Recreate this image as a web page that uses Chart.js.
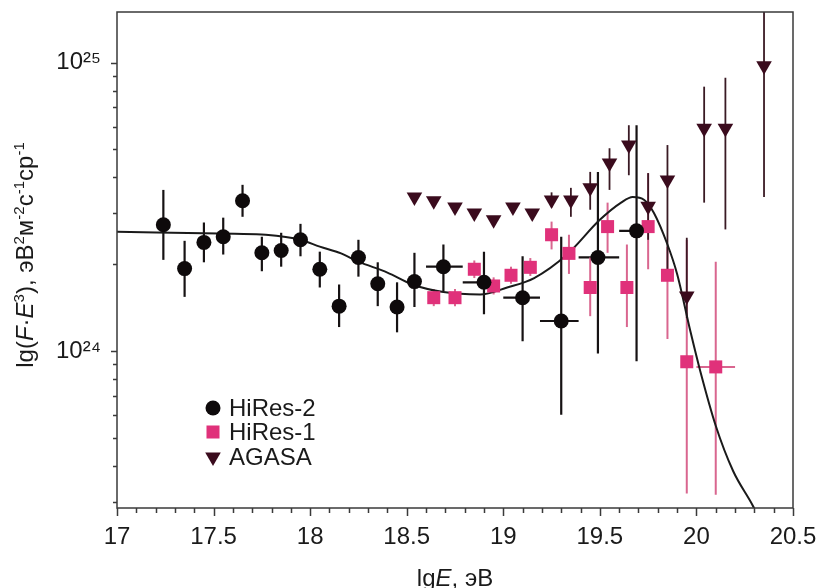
<!DOCTYPE html>
<html><head><meta charset="utf-8">
<script src="https://cdn.jsdelivr.net/npm/chart.js@4"></script>
<style>html,body{margin:0;padding:0;background:#fff;}canvas{display:block;}</style>
</head><body>
<canvas id="c" width="819" height="588"></canvas>
<script>
const FONT = '"Liberation Sans", "DejaVu Sans", sans-serif';

// ---- HiRes-2 (flux in units of 1e24 eV^2 m^-2 s^-1 sr^-1) ----
const hires2E    = [17.24,17.35,17.45,17.55,17.65,17.75,17.85,17.95,18.05,18.15,18.25,18.35,18.45,18.54,18.69,18.90,19.10,19.30,19.49,19.69];
const hires2Flux = [2.74,1.93,2.38,2.49,3.32,2.19,2.23,2.43,1.92,1.43,2.11,1.71,1.42,1.74,1.96,1.73,1.53,1.27,2.11,2.61];
const hires2Low  = [2.07,1.54,2.03,2.16,2.92,1.89,1.96,2.13,1.66,1.21,1.81,1.43,1.16,1.42,1.61,1.34,1.08,0.60,0.98,0.92];
const hires2High = [3.62,2.41,2.79,2.90,3.77,2.49,2.57,2.76,2.21,1.70,2.43,2.03,1.73,2.19,2.34,2.21,2.13,2.49,4.18,6.07];
const hires2ELow = [null,null,null,null,null,null,null,null,null,null,null,null,null,null,18.60,18.79,19.00,19.19,19.39,19.60];
const hires2EHigh= [null,null,null,null,null,null,null,null,null,null,null,null,null,null,18.79,18.98,19.19,19.39,19.60,19.78];

// ---- HiRes-1 ----
const hires1E    = [18.64,18.75,18.85,18.95,19.04,19.14,19.25,19.34,19.45,19.54,19.64,19.75,19.85,19.95,20.10];
const hires1Flux = [1.53,1.53,1.92,1.68,1.83,1.95,2.53,2.18,1.66,2.70,1.66,2.70,1.83,0.917,0.88];
const hires1Low  = [1.43,1.43,1.79,1.57,1.71,1.82,2.25,1.85,1.32,2.19,1.21,1.92,1.10,0.32,0.317];
const hires1High = [1.64,1.64,2.06,1.80,1.96,2.10,2.81,2.53,2.11,3.27,2.34,4.14,2.30,2.43,2.04];
const hires1ELow = [null,null,null,null,null,null,null,null,null,null,null,null,null,null,20.00];
const hires1EHigh= [null,null,null,null,null,null,null,null,null,null,null,null,null,null,20.20];

// ---- AGASA ----
const agasaE    = [18.54,18.64,18.75,18.85,18.95,19.05,19.15,19.25,19.35,19.45,19.55,19.65,19.75,19.85,19.95,20.04,20.15,20.35];
const agasaFlux = [3.42,3.32,3.16,3.01,2.85,3.16,3.01,3.34,3.34,3.68,4.49,5.18,3.18,3.92,1.55,5.92,5.92,9.77];
const agasaLow  = [null,null,null,null,null,null,null,3.15,2.92,3.09,3.62,4.07,2.43,1.90,1.30,3.27,2.64,3.42];
const agasaHigh = [null,null,null,null,null,null,null,3.55,3.68,4.18,5.05,6.07,4.14,5.18,2.47,8.26,8.87,16.0];

// ---- fit curve ----
const curveE    = [17.00,17.61,17.77,17.95,18.05,18.16,18.25,18.40,18.53,18.69,18.88,19.02,19.16,19.33,19.50,19.61,19.67,19.73,19.78,19.85,19.90,19.97,20.02,20.10,20.19,20.29,20.34];
const curveFlux = [2.59,2.55,2.53,2.43,2.30,2.18,2.04,1.87,1.70,1.60,1.57,1.66,1.79,2.16,2.85,3.27,3.42,3.34,3.01,2.34,1.85,1.16,0.85,0.55,0.383,0.292,0.25];

// ---- axes ----
const xMajorTicks = [17,17.5,18,18.5,19,19.5,20,20.5];
const xTickLabels = ['17','17.5','18','18.5','19','19.5','20','20.5'];
const yMajorTicks = [1e24,1e25];
const yTickLabels = ['10²⁴','10²⁵'];
const yMinorTicks = [3e23,4e23,5e23,6e23,7e23,8e23,9e23,2e24,3e24,4e24,5e24,6e24,7e24,8e24,9e24];
const xMinorStep = 0.1;
const seriesNames = ['HiRes-2','HiRes-1','AGASA'];

const U = 1e24;
function pts(xs, ys, lo, hi, xlo, xhi) {
  return xs.map((x, i) => ({
    x: x, y: ys[i] * U,
    lo: lo && lo[i] != null ? lo[i] * U : null,
    hi: hi && hi[i] != null ? hi[i] * U : null,
    xlo: xlo ? xlo[i] : null, xhi: xhi ? xhi[i] : null
  }));
}

const errorBars = {
  id: 'errorBars',
  beforeDatasetsDraw(chart) {
    const { ctx, chartArea: a, scales: { x, y } } = chart;
    ctx.save();
    ctx.beginPath(); ctx.rect(a.left, a.top, a.right - a.left, a.bottom - a.top); ctx.clip();
    chart.data.datasets.forEach(ds => {
      if (!ds.errColor) return;
      ctx.strokeStyle = ds.errColor; ctx.lineWidth = ds.errWidth || 2;
      ds.data.forEach(p => {
        const px = x.getPixelForValue(p.x), py = y.getPixelForValue(p.y);
        ctx.beginPath();
        if (p.lo != null && p.hi != null) {
          ctx.moveTo(px, y.getPixelForValue(p.lo)); ctx.lineTo(px, y.getPixelForValue(p.hi));
        }
        if (p.xlo != null && p.xhi != null) {
          ctx.moveTo(x.getPixelForValue(p.xlo), py); ctx.lineTo(x.getPixelForValue(p.xhi), py);
        }
        ctx.stroke();
      });
    });
    ctx.restore();
  }
};

const NORM = 24, SUP = 15;
function setRunFont(ctx, s) {
  if (s === 'i') ctx.font = 'italic ' + NORM + 'px ' + FONT;
  else if (s === 's') ctx.font = SUP + 'px ' + FONT;
  else ctx.font = NORM + 'px ' + FONT;
}
function drawRuns(ctx, runs, x, y) {
  let cx = x;
  runs.forEach(([t, s]) => {
    setRunFont(ctx, s);
    ctx.fillText(t, cx, s === 's' ? y - 9 : y);
    cx += ctx.measureText(t).width;
  });
  return cx - x;
}
function runsWidth(ctx, runs) {
  let w = 0;
  runs.forEach(([t, s]) => { setRunFont(ctx, s); w += ctx.measureText(t).width; });
  return w;
}

const decor = {
  id: 'decor',
  afterDraw(chart) {
    const { ctx, chartArea: a, scales: { x, y } } = chart;
    ctx.save();
    // frame
    ctx.strokeStyle = '#3a3a3a'; ctx.lineWidth = 1.5;
    ctx.strokeRect(a.left, a.top, a.right - a.left, a.bottom - a.top);
    // x ticks
    ctx.beginPath();
    for (let v = 17; v <= 20.5 + 1e-9; v += xMinorStep) {
      const vv = Math.round(v * 10) / 10;
      const major = xMajorTicks.some(m => Math.abs(m - vv) < 1e-6);
      const px = Math.round(x.getPixelForValue(vv)) + 0.5;
      ctx.moveTo(px, a.bottom); ctx.lineTo(px, a.bottom + (major ? 8 : 5));
    }
    // y ticks
    yMajorTicks.concat(yMinorTicks).forEach(v => {
      const major = yMajorTicks.includes(v);
      const py = Math.round(y.getPixelForValue(v)) + 0.5;
      ctx.moveTo(a.left, py); ctx.lineTo(a.left - (major ? 6 : 4), py);
    });
    ctx.stroke();

    // legend
    const lx = 213, ly = [408, 432, 457];
    seriesNames.forEach((name, i) => {
      const ds = chart.data.datasets[i];
      ctx.fillStyle = ds.pointBackgroundColor;
      Chart.helpers.drawPoint(ctx, {
        pointStyle: ds.pointStyle, radius: ds.pointRadius, rotation: ds.rotation || 0,
        borderWidth: 0
      }, lx, ly[i]);
      ctx.fillStyle = '#1a1a1a';
      ctx.font = '24px ' + FONT; ctx.textBaseline = 'middle'; ctx.textAlign = 'left';
      ctx.fillText(name, 229, ly[i] + 1);
    });

    // x title
    ctx.fillStyle = '#1a1a1a'; ctx.textBaseline = 'alphabetic'; ctx.textAlign = 'left';
    const xr = [['lg', 'n'], ['E', 'i'], [', эВ', 'n']];
    const xw = runsWidth(ctx, xr);
    drawRuns(ctx, xr, (a.left + a.right) / 2 - xw / 2, 586);

    // y title
    const yr = [['lg(', 'n'], ['F', 'i'], ['·', 'n'], ['E', 'i'], ['3', 's'], ['), эВ', 'n'], ['2', 's'], ['м', 'n'], ['-2', 's'], ['с', 'n'], ['-1', 's'], ['ср', 'n'], ['-1', 's']];
    const yw = runsWidth(ctx, yr);
    ctx.translate(33, 255);
    ctx.rotate(-Math.PI / 2);
    drawRuns(ctx, yr, -yw / 2, 0);
    ctx.restore();
  }
};

const datasets = [
  {
    label: seriesNames[0], type: 'scatter',
    data: pts(hires2E, hires2Flux, hires2Low, hires2High, hires2ELow, hires2EHigh),
    pointStyle: 'circle', pointRadius: 7.5, pointBackgroundColor: '#0e0a0b', pointBorderWidth: 0,
    errColor: '#161213', errWidth: 2.2, showLine: false
  },
  {
    label: seriesNames[1], type: 'scatter',
    data: pts(hires1E, hires1Flux, hires1Low, hires1High, hires1ELow, hires1EHigh),
    pointStyle: 'rect', pointRadius: 9.2, pointBackgroundColor: '#e0317a', pointBorderWidth: 0,
    errColor: '#d9668f', errWidth: 2, showLine: false
  },
  {
    label: seriesNames[2], type: 'scatter',
    data: pts(agasaE, agasaFlux, agasaLow, agasaHigh, null, null),
    pointStyle: 'triangle', rotation: 180, pointRadius: 9, pointBackgroundColor: '#3a0b1d', pointBorderWidth: 0,
    errColor: '#3a1a24', errWidth: 1.8, showLine: false
  },
  {
    label: 'fit', type: 'line',
    data: curveE.map((e, i) => ({ x: e, y: curveFlux[i] * U })),
    borderColor: '#1a1a1a', borderWidth: 2, pointRadius: 0, tension: 0.4,
    cubicInterpolationMode: 'monotone', fill: false, clip: 0
  }
];

function zeroPad(s) { s.paddingTop = 0; s.paddingBottom = 0; s.paddingLeft = 0; s.paddingRight = 0; }

new Chart(document.getElementById('c'), {
  type: 'scatter',
  data: { datasets },
  options: {
    responsive: false, animation: false, devicePixelRatio: 1,
    layout: { padding: { top: 12, right: 26, left: 0, bottom: 0 } },
    plugins: { legend: { display: false }, tooltip: { enabled: false } },
    scales: {
      x: {
        type: 'linear', min: 17, max: 20.5,
        grid: { display: false, drawTicks: false }, border: { display: false },
        afterBuildTicks: s => { s.ticks = xMajorTicks.map(v => ({ value: v })); },
        ticks: { callback: (v, i) => xTickLabels[i], font: { family: FONT, size: 24 }, color: '#1a1a1a', padding: 15, maxRotation: 0, autoSkip: false },
        afterFit: s => { s.height = 80; zeroPad(s); }
      },
      y: {
        type: 'logarithmic', min: 2.85e23, max: 1.5e25,
        grid: { display: false, drawTicks: false }, border: { display: false },
        afterBuildTicks: s => { s.ticks = yMajorTicks.map(v => ({ value: v })); },
        ticks: { callback: (v, i) => yTickLabels[i], font: { family: FONT, size: 24 }, color: '#1a1a1a', padding: 16, autoSkip: false },
        afterFit: s => { s.width = 117; zeroPad(s); }
      }
    }
  },
  plugins: [errorBars, decor]
});
</script>
</body></html>
